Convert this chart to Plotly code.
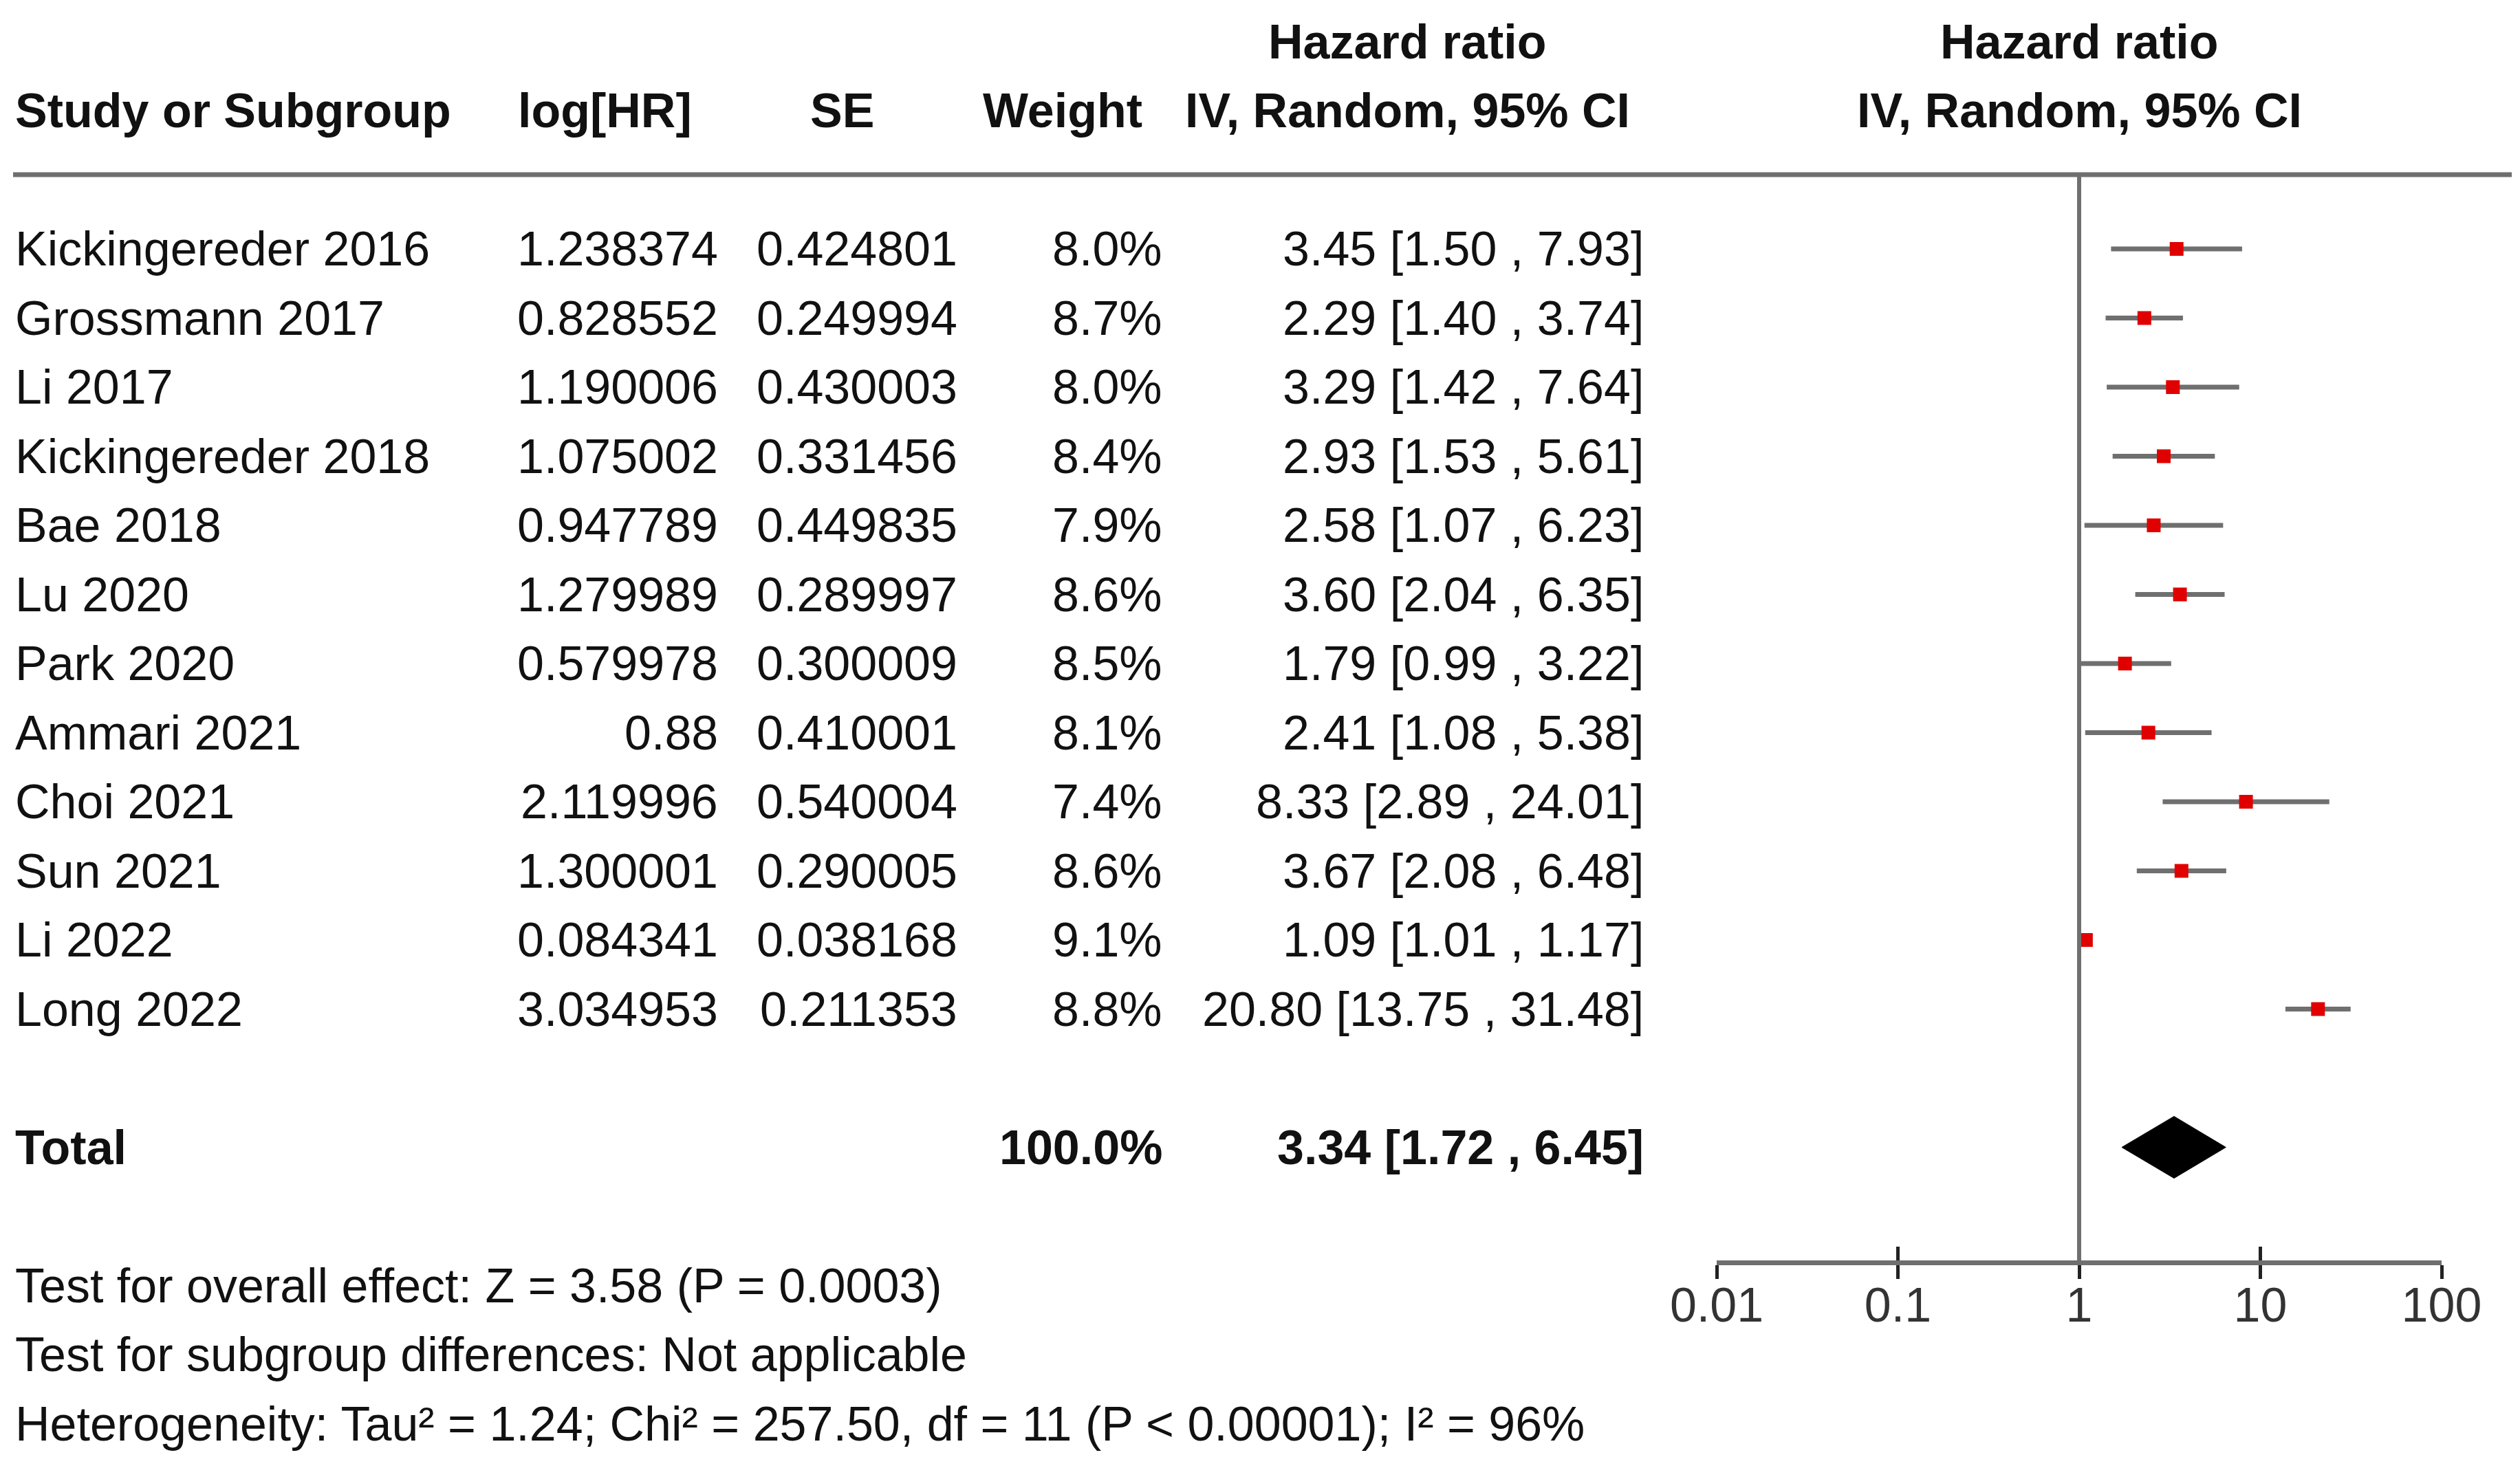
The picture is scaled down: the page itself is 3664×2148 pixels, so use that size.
import plotly.graph_objects as go

# ---------------- data ----------------
studies = ["Kickingereder 2016", "Grossmann 2017", "Li 2017", "Kickingereder 2018",
           "Bae 2018", "Lu 2020", "Park 2020", "Ammari 2021", "Choi 2021",
           "Sun 2021", "Li 2022", "Long 2022"]
log_hr = [1.238374, 0.828552, 1.190006, 1.075002, 0.947789, 1.279989,
          0.579978, 0.88, 2.119996, 1.300001, 0.084341, 3.034953]
se = [0.424801, 0.249994, 0.430003, 0.331456, 0.449835, 0.289997,
      0.300009, 0.410001, 0.540004, 0.290005, 0.038168, 0.211353]
weights = [8.0, 8.7, 8.0, 8.4, 7.9, 8.6, 8.5, 8.1, 7.4, 8.6, 9.1, 8.8]
hr = [3.45, 2.29, 3.29, 2.93, 2.58, 3.60, 1.79, 2.41, 8.33, 3.67, 1.09, 20.80]
ci_low = [1.50, 1.40, 1.42, 1.53, 1.07, 2.04, 0.99, 1.08, 2.89, 2.08, 1.01, 13.75]
ci_high = [7.93, 3.74, 7.64, 5.61, 6.23, 6.35, 3.22, 5.38, 24.01, 6.48, 1.17, 31.48]
total_weight = 100.0
total_hr, total_low, total_high = 3.34, 1.72, 6.45
tick_vals = [0.01, 0.1, 1, 10, 100]
tick_labels = ["0.01", "0.1", "1", "10", "100"]
footer_lines = [
    "Test for overall effect: Z = 3.58 (P = 0.0003)",
    "Test for subgroup differences: Not applicable",
    "Heterogeneity: Tau² = 1.24; Chi² = 257.50, df = 11 (P < 0.00001); I² = 96%",
]

# ---------------- layout parameters (pixels) ----------------
W, H = 3664, 2148
OFF = 8  # page body margin compensation
ROW0_PX, ROW_PX = 362.0 - OFF, 100.5
AXIS_PX = 1833.0 - OFF
X_LEFT_PX, X_RIGHT_PX = 2496.0 - OFF, 3550.0 - OFF
FONT = "Liberation Sans, Arial, Helvetica, sans-serif"
FS = 70
TXT = "#111111"
GRAY = "#6f6f6f"

def xp(px):
    return (px - OFF) / W

def row_of(px):
    return (px - OFF - ROW0_PX) / ROW_PX

TOTAL_ROW = len(studies) + 1
y_top = (0 - ROW0_PX) / ROW_PX
y_bot = (AXIS_PX - ROW0_PX) / ROW_PX

fig = go.Figure()

# CI whiskers
cx, cy = [], []
for i in range(len(studies)):
    cx += [ci_low[i], ci_high[i], None]
    cy += [i, i, None]
fig.add_trace(go.Scatter(x=cx, y=cy, mode="lines",
                         line=dict(color=GRAY, width=7),
                         hoverinfo="skip", showlegend=False))
# point estimates
fig.add_trace(go.Scatter(x=hr, y=list(range(len(studies))), mode="markers",
                         marker=dict(symbol="square", color="#e00000", size=20,
                                     line=dict(width=0)),
                         hoverinfo="skip", showlegend=False))
# pooled diamond
dh = 45.0 / ROW_PX
fig.add_trace(go.Scatter(
    x=[total_low, total_hr, total_high, total_hr, total_low],
    y=[TOTAL_ROW, TOTAL_ROW - dh, TOTAL_ROW, TOTAL_ROW + dh, TOTAL_ROW],
    mode="lines", fill="toself", fillcolor="black",
    line=dict(color="black", width=1), hoverinfo="skip", showlegend=False))
# dummy trace for overlay axis (inner tick halves)
fig.add_trace(go.Scatter(x=[0.01, 100], y=[None, None], xaxis="x2",
                         mode="markers", hoverinfo="skip", showlegend=False))

# ---------------- texts ----------------
anns = []
def ann(text, xpx, row, anchor="left", bold=False):
    anns.append(dict(text=f"<b>{text}</b>" if bold else text,
                     x=xp(xpx), xref="paper", y=row, yref="y",
                     xanchor=anchor, yanchor="middle", showarrow=False,
                     font=dict(family=FONT, size=FS, color=TXT)))

# headers
ann("Hazard ratio", 2046, -3, "center", True)
ann("Hazard ratio", 3023, -3, "center", True)
ann("Study or Subgroup", 20, -2, "left", True)
ann("log[HR]", 879, -2, "center", True)
ann("SE", 1224, -2, "center", True)
ann("Weight", 1545, -2, "center", True)
ann("IV, Random, 95% CI", 2046, -2, "center", True)
ann("IV, Random, 95% CI", 3023, -2, "center", True)

for i, s in enumerate(studies):
    ann(s, 20, i, "left")
    ann(str(log_hr[i]), 1046, i, "right")
    ann(str(se[i]), 1394, i, "right")
    ann(f"{weights[i]:.1f}%", 1692, i, "right")
    ann(f"{hr[i]:.2f} [{ci_low[i]:.2f} , {ci_high[i]:.2f}]", 2392, i, "right")

ann("Total", 20, TOTAL_ROW, "left", True)
ann(f"{total_weight:.1f}%", 1692, TOTAL_ROW, "right", True)
ann(f"{total_hr:.2f} [{total_low:.2f} , {total_high:.2f}]", 2392, TOTAL_ROW, "right", True)

# footer lines sit below the plotting area -> paper coordinates
for k, line in enumerate(footer_lines):
    px = ROW0_PX + (TOTAL_ROW + 2 + k) * ROW_PX
    anns.append(dict(text=line, x=xp(20), xref="paper", y=1 - px / H, yref="paper",
                     xanchor="left", yanchor="middle", showarrow=False,
                     font=dict(family=FONT, size=FS, color=TXT)))

# ---------------- shapes ----------------
header_line_row = row_of(254)
shapes = [
    dict(type="line", xref="paper", yref="y", x0=xp(19), x1=xp(3652),
         y0=header_line_row, y1=header_line_row, line=dict(color=GRAY, width=7)),
    dict(type="line", xref="x", yref="y", x0=1, x1=1,
         y0=header_line_row, y1=y_bot, line=dict(color=GRAY, width=6)),
]

axis_common = dict(type="log", range=[-2, 2],
                   domain=[X_LEFT_PX / W, X_RIGHT_PX / W],
                   showgrid=False, zeroline=False, automargin=False,
                   tickvals=tick_vals, ticktext=tick_labels,
                   ticklen=20, tickwidth=5, tickcolor="#222222")

fig.update_layout(
    template="none",
    width=W, height=H,
    margin=dict(l=0, r=0, t=0, b=0, pad=0, autoexpand=False),
    paper_bgcolor="white", plot_bgcolor="white",
    font=dict(family=FONT, size=FS, color=TXT),
    xaxis=dict(**axis_common, anchor="y", ticks="outside",
               showline=True, linecolor=GRAY, linewidth=7,
               tickfont=dict(family=FONT, size=FS, color="#333333"),
               ticklabelstandoff=-22),
    xaxis2=dict(**axis_common, anchor="y", overlaying="x", side="bottom",
                ticks="inside", showline=False, showticklabels=False),
    yaxis=dict(range=[y_bot, y_top], domain=[(H - AXIS_PX) / H, 1],
               visible=False, showgrid=False, zeroline=False, automargin=False),
    annotations=anns,
    shapes=shapes,
    showlegend=False,
)

fig.write_html("out.html")
